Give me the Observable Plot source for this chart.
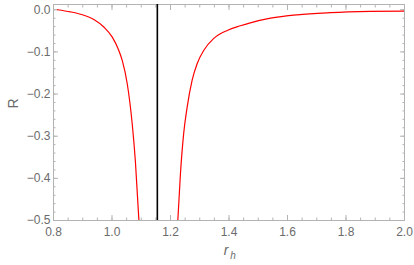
<!DOCTYPE html>
<html>
<head>
<meta charset="utf-8">
<script src="https://cdn.jsdelivr.net/npm/d3@7"></script>
<script src="https://cdn.jsdelivr.net/npm/@observablehq/plot@0.6"></script>
<style>
  html, body { margin: 0; padding: 0; background: #fff; }
  #chart svg { display: block; }
</style>
</head>
<body>
<div id="chart"></div>
<script>
// Left branch of R(r_h)
const leftR  = [0.813, 0.858, 0.904, 0.938, 0.972, 1.001, 1.023, 1.035, 1.052, 1.069, 1.080, 1.092];
const leftV  = [0.000, -0.005, -0.013, -0.023, -0.041, -0.065, -0.096, -0.120, -0.175, -0.270, -0.360, -0.500];
// Right branch of R(r_h)
const rightR = [1.225, 1.234, 1.245, 1.257, 1.274, 1.291, 1.314, 1.348, 1.394, 1.439, 1.473, 1.542, 1.633, 1.747, 1.884, 2.000];
const rightV = [-0.500, -0.389, -0.294, -0.231, -0.167, -0.128, -0.096, -0.068, -0.049, -0.038, -0.031, -0.020, -0.012, -0.007, -0.004, -0.003];
// Vertical asymptote
const asymptote = [1.155];
// Tick labels
const xTicks = [0.8, 1.0, 1.2, 1.4, 1.6, 1.8, 2.0];
const yTicks = [0.0, -0.1, -0.2, -0.3, -0.4, -0.5];

const leftData = leftR.map((r, i) => ({r, R: leftV[i]}));
const rightData = rightR.map((r, i) => ({r, R: rightV[i]}));
const xMinor = d3.range(0.8, 2.0001, 0.05).map(v => +v.toFixed(2));
const yMinor = d3.range(-0.5, 0.0001, 0.02).map(v => +v.toFixed(2));

const frameColor = "#b3b3b3";
const labelColor = "#6b6b6b";
const fmtX = d => d.toFixed(1);
const fmtY = d => (d === 0 ? "0.0" : "\u2212" + Math.abs(d).toFixed(1));

const chart = Plot.plot({
  width: 414,
  height: 265,
  marginLeft: 53,
  marginRight: 10,
  marginTop: 4,
  marginBottom: 45,
  style: {fontFamily: "'Liberation Sans', Arial, sans-serif", fontSize: "12px", color: labelColor, background: "#fff"},
  x: {domain: [0.8, 2.0]},
  y: {domain: [-0.5, 0.0125]},
  marks: [
    // minor ticks (inward) on all four sides
    Plot.axisX(xMinor, {anchor: "bottom", tickSize: -2.5, tickFormat: () => "", stroke: frameColor, label: null}),
    Plot.axisX(xMinor, {anchor: "top", tickSize: -2.5, tickFormat: () => "", stroke: frameColor, label: null}),
    Plot.axisY(yMinor, {anchor: "left", tickSize: -2.5, tickFormat: () => "", stroke: frameColor, label: null}),
    Plot.axisY(yMinor, {anchor: "right", tickSize: -2.5, tickFormat: () => "", stroke: frameColor, label: null}),
    // major ticks
    Plot.axisX(xTicks, {anchor: "bottom", tickSize: -5, tickFormat: () => "", stroke: frameColor, label: null}),
    Plot.axisX(xTicks, {anchor: "top", tickSize: -5, tickFormat: () => "", stroke: frameColor, label: null}),
    Plot.axisY(yTicks, {anchor: "left", tickSize: -5, tickFormat: () => "", stroke: frameColor, label: null}),
    Plot.axisY(yTicks, {anchor: "right", tickSize: -5, tickFormat: () => "", stroke: frameColor, label: null}),
    // tick labels
    Plot.axisX(xTicks, {anchor: "bottom", tickSize: 0, tickPadding: 7, tickFormat: fmtX, fill: labelColor, fontSize: 12, label: null}),
    Plot.axisY(yTicks, {anchor: "left", tickSize: 0, tickPadding: 3, tickFormat: fmtY, fill: labelColor, fontSize: 12, label: null}),
    Plot.frame({stroke: frameColor, strokeWidth: 1}),
    Plot.ruleX(asymptote, {stroke: "#000", strokeWidth: 1.6}),
    Plot.line(leftData, {x: "r", y: "R", stroke: "#ff0000", strokeWidth: 1.2, curve: "monotone-x", clip: true}),
    Plot.line(rightData, {x: "r", y: "R", stroke: "#ff0000", strokeWidth: 1.2, curve: "monotone-x", clip: true}),
    // axis titles
    Plot.text(["R"], {frameAnchor: "left", dx: -40, dy: -4, rotate: -90, fontSize: 14, fill: labelColor}),
    Plot.text(["r"], {frameAnchor: "bottom", dx: -3, dy: 34, fontSize: 14, fontStyle: "italic", fill: labelColor}),
    Plot.text(["h"], {frameAnchor: "bottom", dx: 4, dy: 38, fontSize: 10, fontStyle: "italic", fill: labelColor})
  ]
});
document.getElementById("chart").appendChild(chart);
</script>
</body>
</html>
